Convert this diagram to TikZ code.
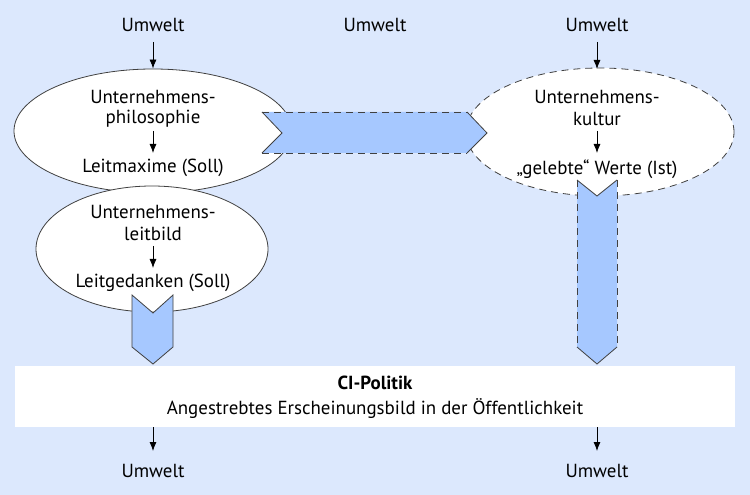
\documentclass[tikz,border=0pt]{standalone}
\usepackage{fontspec}
\setmainfont{PT Sans}
\usetikzlibrary{shapes.geometric,arrows.meta}
\definecolor{bg}{HTML}{DCE8FD}
\definecolor{band}{HTML}{A6C8FF}
\definecolor{edge}{HTML}{404040}
\tikzset{
  lbl/.style={font=\fontsize{19}{22}\selectfont, inner sep=0bp},
  arr/.style={-{Latex[length=9bp,width=7bp]}, line width=0.8bp, black},
  oval/.style={ellipse, draw=edge, fill=white, line width=0.8bp, inner sep=0pt},
  dsh/.style={dash pattern=on 7bp off 5bp},
}
\begin{document}
\begin{tikzpicture}[x=1bp,y=-1bp]
\fill[bg] (0,0) rectangle (750,495);
\useasboundingbox (0,0) rectangle (750,495);
% ellipses
\node[oval, minimum width=278bp, minimum height=124bp] (e1) at (153,131) {};
\node[oval, minimum width=232bp, minimum height=126bp] (e2) at (152,249) {};
\node[oval, dsh, minimum width=268bp, minimum height=128bp] (e3) at (600,132) {};
% horizontal band
\fill[band] (262,112) -- (467,112) -- (487,133) -- (467,153) -- (262,153) -- (282,133) -- cycle;
\draw[edge, line width=0.8bp, dsh] (262,112) -- (467,112);
\draw[edge, line width=0.8bp, dsh] (262,153) -- (467,153);
\draw[edge, line width=0.8bp] (467,112) -- (487,133) -- (467,153);
\draw[edge, line width=0.8bp] (262,112) -- (282,133) -- (262,153);
% vertical band
\fill[band] (577,180) -- (597,196) -- (617,180) -- (617,347) -- (597,364) -- (577,347) -- cycle;
\draw[edge, line width=0.8bp, dsh] (577,180) -- (577,347);
\draw[edge, line width=0.8bp, dsh] (617,180) -- (617,347);
\draw[edge, line width=0.8bp] (577,180) -- (597,196) -- (617,180);
\draw[edge, line width=0.8bp] (577,347) -- (597,364) -- (617,347);
% left chevron
\draw[edge, fill=band, line width=0.8bp] (132,295) -- (153,313) -- (173,295) -- (173,347) -- (153,364) -- (132,347) -- cycle;
% CI box
\node[fill=white, minimum width=720bp, minimum height=61bp, inner sep=0pt] (ci) at (375,396.5) {};
% texts
\node[lbl] (u1) at (153,25) {Umwelt};
\node[lbl] (u2) at (375,25) {Umwelt};
\node[lbl] (u3) at (597,25) {Umwelt};
\node[lbl] (u4) at (153,471) {Umwelt};
\node[lbl] (u5) at (597,471) {Umwelt};
\node[lbl] (a1) at (153,97) {Unternehmens-};
\node[lbl] (a2) at (153,119) {philosophie};
\node[lbl] (a3) at (153,168) {Leitmaxime (Soll)};
\node[lbl] (b1) at (153,212) {Unternehmens-};
\node[lbl] (b2) at (153,234) {leitbild};
\node[lbl] (b3) at (153,283) {Leitgedanken (Soll)};
\node[lbl] (c1) at (597,97) {Unternehmens-};
\node[lbl] (c2) at (597,119) {kultur};
\node[lbl] (c3) at (597,169) {„gelebte“ Werte (Ist)};
\node[lbl, font=\fontsize{19}{22}\selectfont\bfseries] (ci1) at (375,383) {CI-Politik};
\node[lbl] (ci2) at (375,409) {Angestrebtes Erscheinungsbild in der Öffentlichkeit};
% arrows
\draw[arr] (u1.south |- 0,42) -- (u1.south |- e1.north);
\draw[arr] (u3.south |- 0,42) -- (u3.south |- 0,69);
\draw[arr] (a2.south |- 0,131) -- (a3.north |- 0,153);
\draw[arr] (b2.south |- 0,246) -- (b3.north |- 0,268);
\draw[arr] (c2.south |- 0,131) -- (c3.north |- 0,153);
\draw[arr] (ci.south -| u4) -- (u4.north |- 0,451);
\draw[arr] (ci.south -| u5) -- (u5.north |- 0,451);
\end{tikzpicture}
\end{document}
